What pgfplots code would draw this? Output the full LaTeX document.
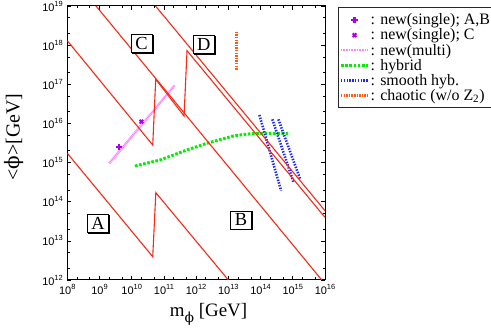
\documentclass[border=0pt]{standalone}
\usepackage{fontspec}
\setmainfont{Liberation Serif}
\newfontfamily\ticksf{Liberation Sans}
\newfontfamily\dvserif{DejaVu Serif}
\usepackage{pgfplots}
\pgfplotsset{compat=1.18}
\usetikzlibrary{shadows}
\definecolor{redl}{RGB}{250,40,20}
\definecolor{purp}{RGB}{170,0,240}
\definecolor{pinkl}{RGB}{255,130,255}
\definecolor{greenl}{RGB}{0,240,0}
\definecolor{bluel}{RGB}{30,40,240}
\definecolor{orangel}{RGB}{255,90,20}
\newcommand{\tsup}[1]{\raisebox{0.45em}{\fontsize{7.5}{8}\selectfont #1}}
\begin{document}
\begin{tikzpicture}
\begin{axis}[
  name=ax,
  scale only axis,
  width=257.7bp, height=274bp,
  xmode=log, ymode=log,
  xmin=1e8, xmax=1e16, ymin=1e12, ymax=1e19,
  xtick={1e8,1e9,1e10,1e11,1e12,1e13,1e14,1e15,1e16},
  xticklabels={10\tsup{8},10\tsup{9},10\tsup{10},10\tsup{11},10\tsup{12},10\tsup{13},10\tsup{14},10\tsup{15},10\tsup{16}},
  ytick={1e12,1e13,1e14,1e15,1e16,1e17,1e18,1e19},
  yticklabels={10\tsup{12},10\tsup{13},10\tsup{14},10\tsup{15},10\tsup{16},10\tsup{17},10\tsup{18},10\tsup{19}},
  minor xtick={2e8,5e8,2e9,5e9,2e10,5e10,2e11,5e11,2e12,5e12,2e13,5e13,2e14,5e14,2e15,5e15},
  minor ytick={2e12,5e12,2e13,5e13,2e14,5e14,2e15,5e15,2e16,5e16,2e17,5e17,2e18,5e18},
  major tick length=4bp, minor tick length=2.5bp,
  tick style={black, line width=0.7bp},
  ticklabel style={font=\ticksf\fontsize{11}{12}\selectfont},
  xticklabel style={yshift=-1bp},
  yticklabel style={xshift=-1bp},
  axis line style={line width=1bp},
  xlabel={m\raisebox{-0.28em}{\fontsize{14}{14}\selectfont\dvserif ϕ} [GeV]},
  ylabel={<{\dvserif ϕ}>[GeV]},
  xlabel style={font=\fontsize{19}{20}\selectfont, at={(axis description cs:0.548,-0.135)}, anchor=base},
  ylabel style={font=\fontsize{20}{21}\selectfont, at={(axis description cs:-0.206,0.522)}, anchor=center},
  legend style={at={(1,1)}, anchor=north west, xshift=13bp, yshift=-1.3bp,
    draw=black!85, line width=1.1bp, font=\fontsize{16}{16}\selectfont,
    inner xsep=1bp, inner ysep=5bp, row sep=0.5bp, nodes={inner sep=1bp}},
  legend cell align=left,
  legend image code/.code={\draw[mark repeat=2,mark phase=2,#1] plot coordinates {(0bp,0bp) (13.5bp,0bp) (27bp,0bp)};},
]
% legend entries
\addplot[only marks, mark=+, mark size=3.2bp, line width=2.2bp, color=purp] coordinates {(4.04e9,2.54e15)};
\addlegendentry{: new(single); A,B}
\addplot[only marks, mark=x, mark size=2.6bp, line width=2bp, color=purp] coordinates {(1.99e10,1.11e16)};
\addlegendentry{: new(single); C}
\addplot[pinkl, line width=2.4bp, dash pattern=on 1bp off 0.6bp] coordinates {(2.01e9,9.57e14) (2.21e11,9.55e16)};
\addlegendentry{: new(multi)}
\addplot[greenl, line width=3bp, dash pattern=on 2.6bp off 1.6bp] coordinates {
 (1.26e10,8.17e14) (7.57e10,1.16e15) (5.11e11,2.09e15) (2.13e12,3.10e15) (1.43e13,4.78e15) (3.16e13,5.25e15) (7.62e13,5.60e15) (8.24e14,5.60e15)};
\addlegendentry{: hybrid}
\addplot[bluel, line width=2.6bp, dash pattern=on 1.4bp off 1.4bp] coordinates {(9.18e13,1.64e16) (4.34e14,1.91e14)};
\addlegendentry{: smooth hyb.}
\addplot[orangel, line width=2.6bp, dash pattern=on 1.4bp off 1.2bp] coordinates {(1.82e13,2.20e18) (1.82e13,2.32e17)};
\addlegendentry{: chaotic (w/o Z\textsubscript{2})}
\addplot[bluel, line width=2.6bp, dash pattern=on 1.4bp off 1.4bp, forget plot] coordinates {(2.32e14,1.27e16) (1.04e15,3.24e14)};
\addplot[bluel, line width=2.6bp, dash pattern=on 1.4bp off 1.4bp, forget plot] coordinates {(3.57e14,1.27e16) (1.69e15,3.80e14)};
% red lines
\addplot[redl, line width=1.1bp, forget plot] coordinates {(1e8,1.30e18) (4.49e10,2.81e15) (5.56e10,1.34e17) (4.21e11,1.55e16) (5.21e11,7.21e17) (1e16,3.98e13)};
\addplot[redl, line width=1.1bp, forget plot] coordinates {(1e8,1.73e15) (4.49e10,3.94e12) (5.6e10,1.70e14) (1e13,1e12)};
\addplot[redl, line width=1.1bp, forget plot] coordinates {(7.78e8,1e19) (7.94e15,1e12)};
\addplot[redl, line width=1.1bp, forget plot] coordinates {(5.48e10,1e19) (1e16,5.89e13)};
% box labels
\tikzset{boxlab/.style={draw=black, line width=0.8bp, fill=white, copy shadow={shadow xshift=0.8bp, shadow yshift=-0.8bp, draw=black, fill=black}, minimum width=21bp, minimum height=18bp, inner sep=0pt, font=\fontsize{18.5}{18.5}\selectfont}}
\node[boxlab] at (axis cs:9.06e8,2.8e13) {A};
\node[boxlab] at (axis cs:2.49e13,3.43e13) {B};
\node[boxlab] at (axis cs:2.03e10,1.12e18) {C};
\node[boxlab] at (axis cs:1.74e12,1.04e18) {D};
\coordinate (bl) at (rel axis cs:0,0);
\coordinate (tr) at (rel axis cs:1,1);
\end{axis}
\pgfresetboundingbox
\path ([shift={(-67.3bp,-56bp)}]bl) rectangle ([shift={(166bp,6bp)}]tr);
\end{tikzpicture}
\end{document}
